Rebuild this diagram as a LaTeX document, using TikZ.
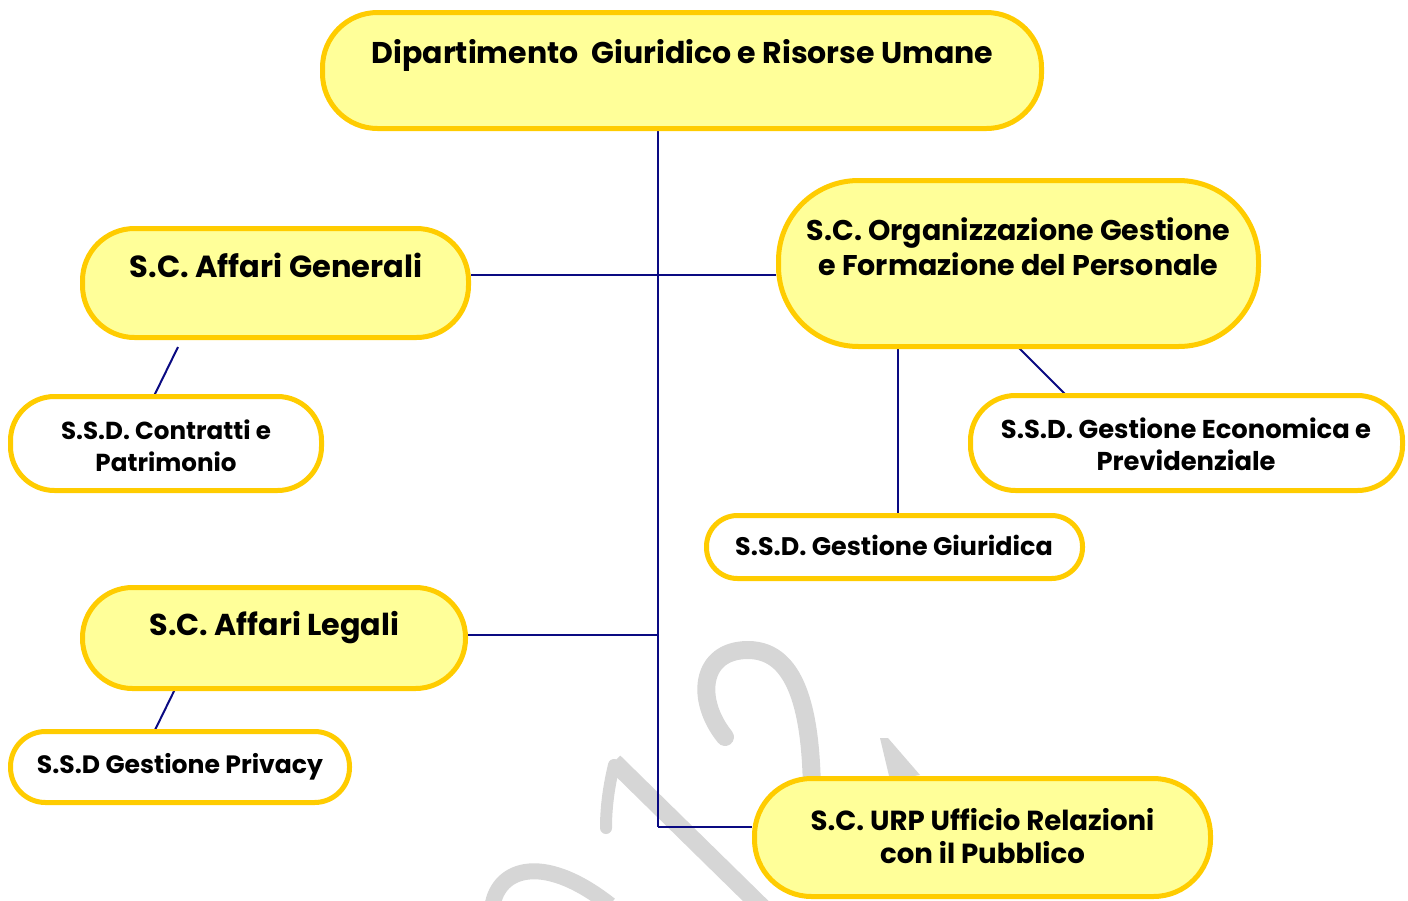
\documentclass[tikz,border=0pt]{standalone}
\usepackage{fontspec}
\setmainfont{Poppins}
\usetikzlibrary{calc}
\definecolor{bordery}{RGB}{255,204,0}
\definecolor{filly}{RGB}{255,255,153}
\definecolor{linkc}{RGB}{10,10,130}
\definecolor{wmark}{RGB}{214,214,214}
\tikzset{
  scbox/.style={draw=bordery, line width=5pt, fill=filly, inner sep=0pt},
  ssbox/.style={draw=bordery, line width=5pt, fill=white, inner sep=0pt},
  txt/.style={font=\fontsize{#1}{32}\selectfont\bfseries, align=center, anchor=base, inner sep=0pt},
  link/.style={draw=linkc, line width=2pt},
  wm/.style={draw=wmark, line width=18pt, line cap=round},
}
\begin{document}
\begin{tikzpicture}[x=1pt,y=-1pt]
\useasboundingbox (0,0) rectangle (1408,900);
% watermark
\draw[wm] (725,737) .. controls (695,700) and (700,650) .. (748,650) .. controls (800,650) and (812,720) .. (812,800);
\draw[wm, line cap=butt] (614,762) -- (770,915);
\draw[wm, line width=12pt] (614,765) .. controls (608,790) and (606,810) .. (606,828);
\draw[wm, line width=16pt, line cap=butt] (492,910) .. controls (495,870) and (540,850) .. (610,905);
\fill[wmark] (880,738) -- (888,738) -- (920,775) -- (890,780) -- cycle;
% junction coordinates
\coordinate (jtop) at (658,131);
\coordinate (j1) at (658,275);
\coordinate (j2) at (658,635);
\coordinate (j3) at (658,827);
\coordinate (cgen) at (178,347);
\coordinate (cleg) at (178,683);
\coordinate (corg1) at (898,347);
\coordinate (corg2) at (1018,347);
% connectors
\draw[link] (jtop) -- (j3);
\draw[link] (j1 -| 471,0) -- (j1 -| 776,0);
\draw[link] (j2 -| 468,0) -- (j2);
\draw[link] (j3) -- (j3 -| 752,0);
\draw[link] (cgen) -- (154,396);
\draw[link] (cleg) -- (154,732);
\draw[link] (corg1) -- (898,515);
\draw[link] (corg2) -- (1067,396);
% boxes
\node[scbox, rounded corners=55pt, minimum width=719pt, minimum height=116pt] (top) at (682,70.5) {};
\node[scbox, rounded corners=52pt, minimum width=386pt, minimum height=109pt] (gen) at (275.5,283) {};
\node[scbox, rounded corners=80pt, minimum width=480pt, minimum height=166pt] (org) at (1018.5,263.5) {};
\node[ssbox, rounded corners=44pt, minimum width=311pt, minimum height=94pt] (contr) at (166,443.5) {};
\node[ssbox, rounded corners=45pt, minimum width=432pt, minimum height=95pt] (econ) at (1186.5,443) {};
\node[ssbox, rounded corners=31pt, minimum width=376pt, minimum height=63pt] (giur) at (894.5,547) {};
\node[scbox, rounded corners=50pt, minimum width=383pt, minimum height=101pt] (leg) at (274,638) {};
\node[ssbox, rounded corners=35pt, minimum width=339pt, minimum height=71pt] (priv) at (180,767) {};
\node[scbox, rounded corners=57pt, minimum width=456pt, minimum height=118pt] (urp) at (982.5,837.5) {};
% texts
\node[txt=30] (ttop) at (682.5,63.5) {Dipartimento\ \ Giuridico e Risorse Umane};
\node[txt=30.5] (tgen) at (276,277) {S.C. Affari Generali};
\node[txt=28.5] (torg1) at (1018.5,240) {S.C. Organizzazione Gestione};
\node[txt=28.5] (torg2) at (1018.5,275) {e Formazione del Personale};
\node[txt=24.6] (tcontr1) at (166,439) {S.S.D. Contratti e};
\node[txt=24.6] (tcontr2) at (166,471) {Patrimonio};
\node[txt=25.8] (tecon1) at (1186,438) {S.S.D. Gestione Economica e};
\node[txt=25.8] (tecon2) at (1186,470) {Previdenziale};
\node[txt=25.4] (tgiur) at (894,555) {S.S.D. Gestione Giuridica};
\node[txt=30.2] (tleg) at (274.5,635) {S.C. Affari Legali};
\node[txt=25.1] (tpriv) at (180,773) {S.S.D Gestione Privacy};
\node[txt=27.6] (turp1) at (982.5,830) {S.C. URP Ufficio Relazioni};
\node[txt=27.6] (turp2) at (982.5,863) {con il Pubblico};
\end{tikzpicture}
\end{document}
